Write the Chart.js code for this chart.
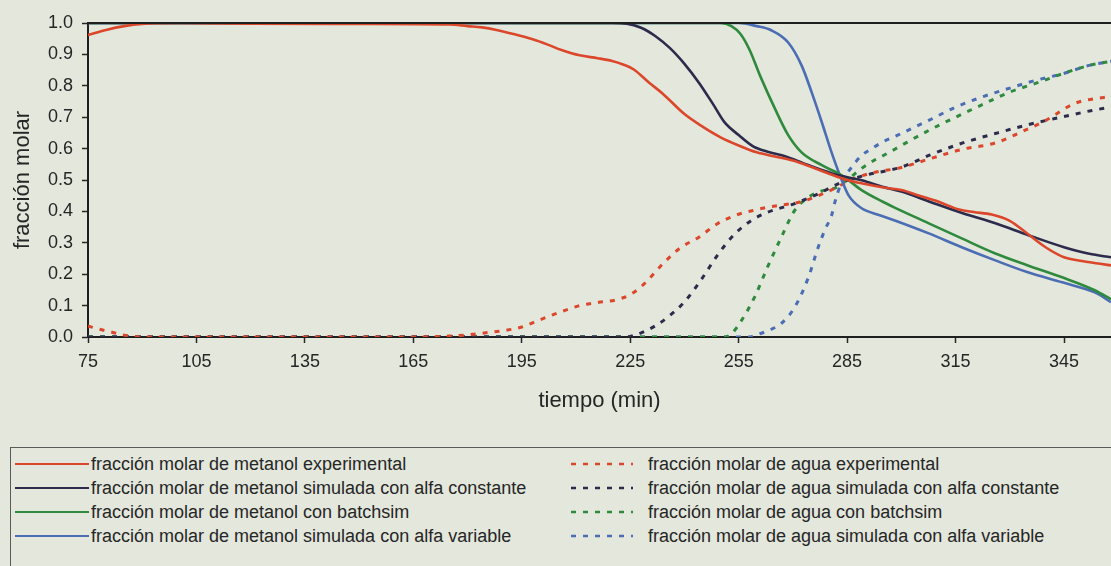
<!DOCTYPE html>
<html>
<head>
<meta charset="utf-8">
<script src="https://cdn.jsdelivr.net/npm/chart.js@4/dist/chart.umd.min.js"></script>
<style>
  html, body { margin:0; padding:0; background:#e3e7dc; overflow:hidden; width:1111px; height:566px; }
  #wrap { position:absolute; left:0; top:0; width:1111px; height:430px; }
  #legend { position:absolute; left:10px; top:447px; width:1200px; height:200px; border:1px solid #5a5a5a; box-sizing:border-box; }
  .item { position:absolute; height:24px; display:flex; align-items:center; font-family:"Liberation Sans", Arial, sans-serif; font-size:18px; color:#262626; white-space:nowrap; }
  .item svg { flex:none; }
</style>
</head>
<body>
<div id="wrap"><canvas id="c" width="1111" height="430"></canvas></div>
<div id="legend"></div>
<script>
// ---- data ----
const xTickValues = [75, 105, 135, 165, 195, 225, 255, 285, 315, 345];
const yTickStep = 0.1;

const seriesNames = [
  "fracción molar de metanol experimental",
  "fracción molar de metanol simulada con alfa constante",
  "fracción molar de metanol con batchsim",
  "fracción molar de metanol simulada con alfa variable",
  "fracción molar de agua experimental",
  "fracción molar de agua simulada con alfa constante",
  "fracción molar de agua con batchsim",
  "fracción molar de agua simulada con alfa variable"
];
const seriesColors = ["#dc472b", "#2c2b4c", "#2f8a3d", "#4b6db3", "#dc472b", "#2c2b4c", "#2f8a3d", "#4b6db3"];

// metanol experimental
const tMetExp = [75, 80, 85, 90, 100, 120, 150, 175, 180, 184, 188, 193, 198, 202, 206, 211, 216, 220, 223, 226, 230, 234, 240, 245, 250, 255, 260, 265, 270, 275, 280, 285, 290, 295, 300, 305, 310, 316, 320, 325, 330, 335, 340, 345, 350, 355, 358];
const yMetExp = [0.962, 0.978, 0.99, 0.997, 1.0, 0.998, 0.997, 0.995, 0.99, 0.986, 0.978, 0.964, 0.948, 0.932, 0.914, 0.897, 0.888, 0.879, 0.868, 0.852, 0.812, 0.775, 0.71, 0.67, 0.636, 0.61, 0.588, 0.575, 0.562, 0.542, 0.52, 0.5, 0.487, 0.476, 0.468, 0.45, 0.432, 0.406, 0.398, 0.39, 0.37, 0.328, 0.285, 0.254, 0.242, 0.233, 0.228];

// metanol simulada alfa constante
const tMetConst = [75, 220, 224, 228, 232, 236, 240, 244, 248, 251, 255, 259, 263, 268, 273, 278, 283, 289, 295, 300, 308, 317, 326, 335, 345, 352, 358];
const yMetConst = [1.0, 1.0, 0.998, 0.985, 0.958, 0.92, 0.87, 0.81, 0.74, 0.685, 0.643, 0.607, 0.59, 0.575, 0.553, 0.532, 0.514, 0.499, 0.478, 0.463, 0.43, 0.394, 0.362, 0.325, 0.286, 0.265, 0.254];

// metanol batchsim
const tMetBatch = [75, 250, 253, 255.5, 258, 261, 265, 268.7, 272.4, 278, 283.5, 289, 295, 298, 307.6, 316.7, 326, 335, 344.5, 353.5, 358];
const yMetBatch = [1.0, 1.0, 0.99, 0.965, 0.915, 0.83, 0.728, 0.643, 0.588, 0.547, 0.515, 0.468, 0.43, 0.413, 0.362, 0.314, 0.266, 0.228, 0.19, 0.149, 0.12];

// metanol simulada alfa variable
const tMetVar = [75, 255, 260, 264, 268.7, 272.4, 275.2, 278, 280.7, 283, 285.4, 289, 294, 298, 307.6, 316.7, 326, 335, 344.5, 353.5, 358];
const yMetVar = [1.0, 1.0, 0.99, 0.977, 0.938, 0.865, 0.779, 0.684, 0.588, 0.515, 0.451, 0.41, 0.388, 0.372, 0.33, 0.286, 0.244, 0.206, 0.174, 0.142, 0.111];

// agua experimental
const tAguaExp = [75, 78, 81, 85, 90, 165, 175, 180, 184, 191, 195, 199, 203, 207, 211, 216, 221, 225, 228, 231, 234, 239, 244, 249, 254, 259, 263, 268, 272, 277, 282, 286, 291, 300, 308, 317, 326, 333, 340, 348, 356, 358];
const yAguaExp = [0.035, 0.025, 0.017, 0.006, 0.0, 0.0, 0.003, 0.007, 0.012, 0.022, 0.032, 0.05, 0.068, 0.085, 0.1, 0.11, 0.118, 0.135, 0.16, 0.195, 0.233, 0.285, 0.318, 0.36, 0.387, 0.403, 0.413, 0.422, 0.43, 0.45, 0.476, 0.5, 0.52, 0.54, 0.568, 0.598, 0.618, 0.652, 0.69, 0.744, 0.763, 0.766];

// agua simulada alfa constante
const tAguaConst = [75, 224, 226, 229, 232, 235.5, 240, 244.6, 249.4, 254, 258.5, 263, 270.5, 277, 283, 290, 300, 308, 317, 326, 335, 345, 353, 358];
const yAguaConst = [0.0, 0.0, 0.005, 0.018, 0.036, 0.064, 0.112, 0.182, 0.265, 0.329, 0.371, 0.397, 0.425, 0.456, 0.49, 0.515, 0.541, 0.58, 0.618, 0.648, 0.676, 0.702, 0.722, 0.732];

// agua batchsim
const tAguaBatch = [75, 251, 253, 255.8, 259.4, 263, 266.8, 270.5, 274.3, 278, 281.6, 285, 289, 292.5, 296, 300, 307.6, 315, 322, 329.8, 338, 344.5, 352, 358];
const yAguaBatch = [0.0, 0.0, 0.01, 0.053, 0.127, 0.223, 0.318, 0.403, 0.445, 0.465, 0.474, 0.5, 0.537, 0.563, 0.584, 0.61, 0.658, 0.7, 0.738, 0.779, 0.811, 0.838, 0.865, 0.878];

// agua simulada alfa variable
const tAguaVar = [75, 258, 261.3, 263.5, 266.8, 270.5, 274.3, 277, 279, 280.7, 281.6, 283.5, 286, 289, 291.8, 295, 299, 307.6, 315, 322, 329.8, 337, 344.5, 352, 358];
const yAguaVar = [0.0, 0.0, 0.012, 0.022, 0.043, 0.095, 0.19, 0.286, 0.345, 0.387, 0.429, 0.493, 0.537, 0.578, 0.6, 0.622, 0.643, 0.69, 0.732, 0.763, 0.792, 0.817, 0.838, 0.865, 0.878];

const seriesT = [tMetExp, tMetConst, tMetBatch, tMetVar, tAguaExp, tAguaConst, tAguaBatch, tAguaVar];
const seriesY = [yMetExp, yMetConst, yMetBatch, yMetVar, yAguaExp, yAguaConst, yAguaBatch, yAguaVar];

// ---- chart ----
const FONT = "'Liberation Sans', Arial, sans-serif";
const solidW = 2.6, dashW = 3, dashPattern = [5, 7];

const datasets = seriesNames.map((name, i) => ({
  label: name,
  data: seriesT[i].map((t, k) => ({ x: t, y: seriesY[i][k] })),
  borderColor: seriesColors[i],
  backgroundColor: seriesColors[i],
  borderWidth: i < 4 ? solidW : dashW,
  borderDash: i < 4 ? [] : dashPattern,
  pointRadius: 0,
  cubicInterpolationMode: 'monotone',
  fill: false
}));

const frame = {
  id: 'frame',
  afterDatasetsDraw(chart) {
    const { ctx, chartArea: a } = chart;
    ctx.save();
    ctx.strokeStyle = '#1f1f1f';
    ctx.lineWidth = 2;
    ctx.beginPath();
    ctx.moveTo(a.left, a.top);
    ctx.lineTo(a.right + 5, a.top);
    ctx.stroke();
    ctx.restore();
  }
};

const chart = new Chart(document.getElementById('c'), {
  type: 'line',
  data: { datasets },
  plugins: [frame],
  options: {
    responsive: false,
    animation: false,
    devicePixelRatio: 1,
    layout: { padding: { top: 23, right: 0, left: 0, bottom: 0 } },
    plugins: { legend: { display: false }, tooltip: { enabled: false } },
    scales: {
      x: {
        type: 'linear',
        min: 75, max: 358,
        afterBuildTicks: s => { s.ticks = xTickValues.map(v => ({ value: v })); },
        afterFit: s => { s.height = 93; },
        ticks: { color: '#262626', font: { family: FONT, size: 18 }, padding: 8, maxRotation: 0, autoSkip: false },
        grid: { drawOnChartArea: false, drawTicks: true, tickLength: 6, tickColor: '#262626', tickWidth: 1.5 },
        border: { display: true, color: '#1f1f1f', width: 2 },
        title: { display: true, text: 'tiempo (min)', color: '#262626', font: { family: FONT, size: 22 }, padding: { top: 0, bottom: 16 } }
      },
      y: {
        type: 'linear',
        min: 0, max: 1,
        afterFit: s => { s.width = 88; },
        ticks: { stepSize: yTickStep, color: '#262626', font: { family: FONT, size: 18 }, padding: 9, callback: v => Number(v).toFixed(1) },
        grid: { drawOnChartArea: false, drawTicks: true, tickLength: 6, tickColor: '#262626', tickWidth: 1.5 },
        border: { display: true, color: '#1f1f1f', width: 2 },
        title: { display: true, text: 'fracción molar', color: '#262626', font: { family: FONT, size: 22 }, padding: { top: 10, bottom: 0 } }
      }
    }
  }
});

// ---- legend (HTML, built from the chart's datasets) ----
const legend = document.getElementById('legend');
const colLineX = [4, 560];
const colLineW = [74, 62];
const colTextGap = [2, 15];
chart.data.datasets.forEach((ds, i) => {
  const col = i < 4 ? 0 : 1, row = i % 4;
  const div = document.createElement('div');
  div.className = 'item';
  div.style.left = colLineX[col] + 'px';
  div.style.top = (4 + row * 24) + 'px';
  const w = colLineW[col];
  const svgNS = 'http://www.w3.org/2000/svg';
  const svg = document.createElementNS(svgNS, 'svg');
  svg.setAttribute('width', w); svg.setAttribute('height', 24);
  const ln = document.createElementNS(svgNS, 'line');
  ln.setAttribute('x1', 0); ln.setAttribute('x2', w);
  ln.setAttribute('y1', 12); ln.setAttribute('y2', 12);
  ln.setAttribute('stroke', ds.borderColor);
  ln.setAttribute('stroke-width', col === 0 ? 2.2 : 2.6);
  if (ds.borderDash.length) ln.setAttribute('stroke-dasharray', '5 7');
  svg.appendChild(ln);
  div.appendChild(svg);
  const span = document.createElement('span');
  span.textContent = ds.label;
  span.style.marginLeft = colTextGap[col] + 'px';
  div.appendChild(span);
  legend.appendChild(div);
});
</script>
</body>
</html>
